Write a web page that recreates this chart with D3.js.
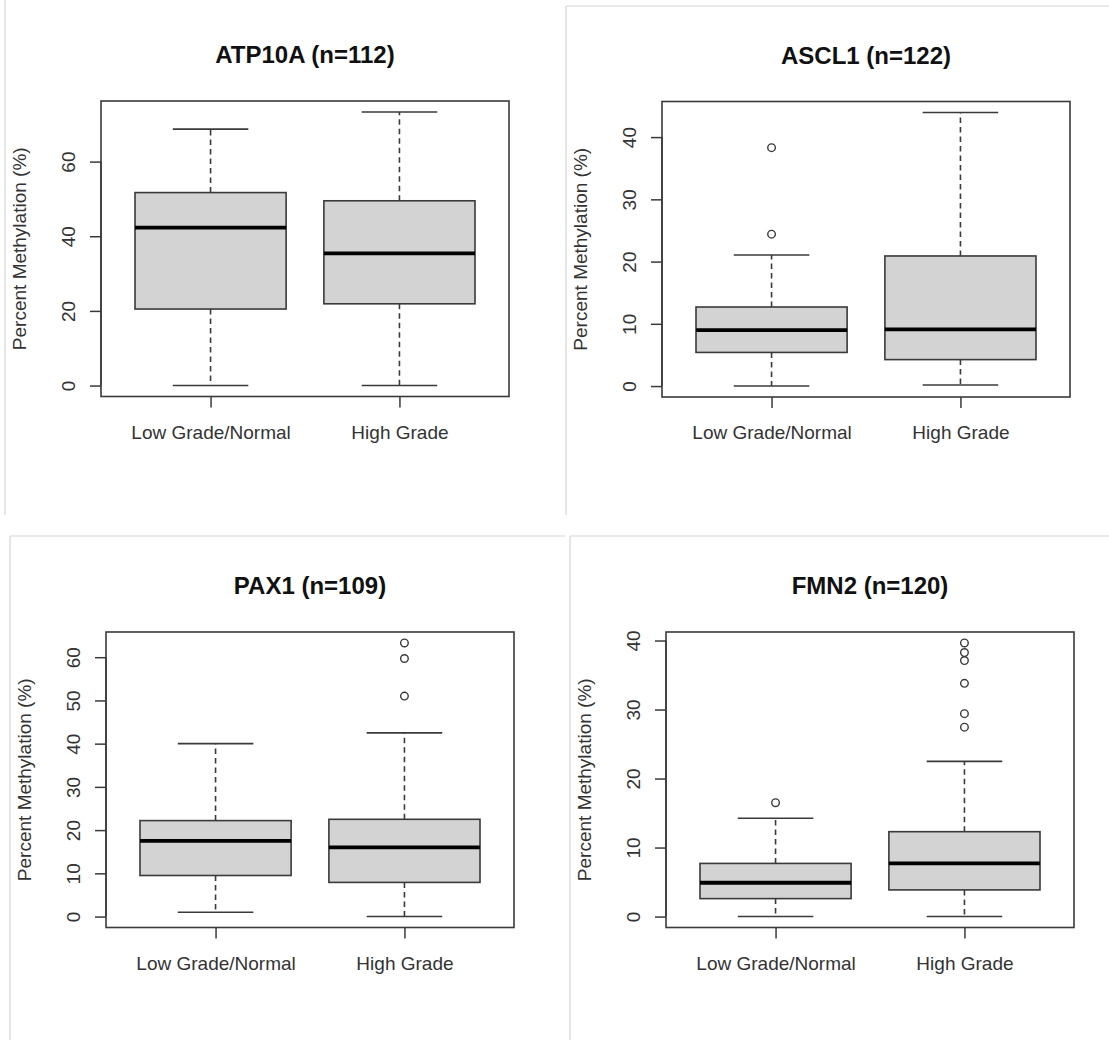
<!DOCTYPE html>
<html>
<head>
<meta charset="utf-8">
<script src="https://cdn.jsdelivr.net/npm/d3@7"></script>
<style>
  body { margin: 0; background: #fff; }
  text { font-family: "Liberation Sans", Arial, sans-serif; }
</style>
</head>
<body>
<div id="vis"></div>
<script>
// Canvas size
const width = 1109;
const height = 1040;

// Chart data
const genes = ['ATP10A', 'ASCL1', 'PAX1', 'FMN2'];
const sampleSizes = [112, 122, 109, 120];
const groups = ['Low Grade/Normal', 'High Grade'];

// y tick values per gene
const atp10aTicks = [0, 20, 40, 60];
const ascl1Ticks = [0, 10, 20, 30, 40];
const pax1Ticks = [0, 10, 20, 30, 40, 50, 60];
const fmn2Ticks = [0, 10, 20, 30, 40];

// box stats per group: [lower whisker, Q1, median, Q3, upper whisker]
const atp10aStats = [[0, 20.5, 42.3, 51.7, 68.7], [0, 21.9, 35.4, 49.5, 73.3]];
const ascl1Stats = [[0, 5.4, 9.0, 12.7, 21.05], [0.16, 4.25, 9.1, 20.9, 43.96]];
const pax1Stats = [[1.0, 9.5, 17.5, 22.2, 40.0], [0, 7.9, 16.0, 22.5, 42.5]];
const fmn2Stats = [[0, 2.6, 4.9, 7.7, 14.24], [0, 3.86, 7.72, 12.3, 22.49]];

// outliers per group
const atp10aOut = [[], []];
const ascl1Out = [[38.3, 24.4], []];
const pax1Out = [[], [63.3, 59.7, 51.0]];
const fmn2Out = [[16.5], [39.65, 38.26, 37.1, 33.8, 29.4, 27.45]];

const tickSets = [atp10aTicks, ascl1Ticks, pax1Ticks, fmn2Ticks];
const statSets = [atp10aStats, ascl1Stats, pax1Stats, fmn2Stats];
const outSets = [atp10aOut, ascl1Out, pax1Out, fmn2Out];

// Plot frames (top-left corner of each panel's plotting box)
const frames = [
    {x: 101, y: 101},
    {x: 662, y: 101.5},
    {x: 106, y: 632},
    {x: 666, y: 632}
];
const frameW = 408;
const frameH = 295.5;

// light grey borders of the stitched screenshots
const borders = [
    [5, 0, 5, 515],
    [566, 6, 1109, 6], [566, 6, 566, 515],
    [10, 536, 565, 536], [10, 536, 10, 1040],
    [570, 536, 1109, 536], [570, 536, 570, 1040]
];

const ink = '#3a3a3a';
const labelSize = '19px';

let svg = d3.select('#vis')
    .append('svg')
    .attr('width', width)
    .attr('height', height);

svg.append('rect')
    .attr('width', width)
    .attr('height', height)
    .attr('fill', '#fff');

svg.selectAll('.border')
    .data(borders)
    .join('line')
    .attr('class', 'border')
    .attr('x1', d => d[0]).attr('y1', d => d[1])
    .attr('x2', d => d[2]).attr('y2', d => d[3])
    .attr('stroke', '#d6d6d6')
    .attr('stroke-width', 1.2);

genes.forEach((gene, gi) => {
    const f = frames[gi];
    const stats = statSets[gi];
    const outs = outSets[gi];

    // R style range: data extent padded by 4%
    const allVals = stats.flat().concat(outs.flat());
    const lo = d3.min(allVals), hi = d3.max(allVals);
    const pad = (hi - lo) * 0.04;

    let xScale = d3.scaleLinear()
        .domain([0.42, 2.58])
        .range([f.x, f.x + frameW]);

    let yScale = d3.scaleLinear()
        .domain([lo - pad, hi + pad])
        .range([f.y + frameH, f.y]);

    let g = svg.append('g').attr('class', 'panel');

    // Title
    g.append('text')
        .attr('x', f.x + frameW / 2)
        .attr('y', f.y - 38)
        .attr('text-anchor', 'middle')
        .attr('font-size', '24px')
        .attr('font-weight', 'bold')
        .attr('fill', '#111')
        .text(`${gene} (n=${sampleSizes[gi]})`);

    // Y axis
    let yAxis = d3.axisLeft(yScale)
        .tickValues(tickSets[gi])
        .tickSize(11)
        .tickPadding(0)
        .tickSizeOuter(0);

    let ya = g.append('g')
        .attr('transform', `translate(${f.x},0)`)
        .call(yAxis);
    ya.select('.domain')
        .attr('d', `M0,${yScale(d3.min(tickSets[gi]))}V${yScale(d3.max(tickSets[gi]))}`)
        .attr('stroke', ink).attr('stroke-width', 1.5);
    ya.selectAll('.tick line').attr('stroke', ink).attr('stroke-width', 1.5);
    ya.selectAll('.tick text')
        .attr('x', null).attr('dy', null)
        .attr('transform', 'translate(-26.5,0) rotate(-90)')
        .attr('text-anchor', 'middle')
        .attr('font-size', labelSize)
        .attr('font-family', '"Liberation Sans", Arial, sans-serif')
        .attr('fill', '#333');

    // X axis
    let xAxis = d3.axisBottom(xScale)
        .tickValues([1, 2])
        .tickFormat((d, i) => groups[i])
        .tickSize(11)
        .tickSizeOuter(0);

    let xa = g.append('g')
        .attr('transform', `translate(0,${f.y + frameH})`)
        .call(xAxis);
    xa.select('.domain').remove();
    xa.selectAll('.tick line').attr('stroke', ink).attr('stroke-width', 1.5);
    xa.selectAll('.tick text')
        .attr('y', 42).attr('dy', null)
        .attr('font-size', labelSize)
        .attr('font-family', '"Liberation Sans", Arial, sans-serif')
        .attr('fill', '#333');

    // Y label
    g.append('text')
        .attr('transform', `translate(${f.x - 75},${f.y + frameH / 2}) rotate(-90)`)
        .attr('text-anchor', 'middle')
        .attr('font-size', labelSize)
        .attr('fill', '#333')
        .text('Percent Methylation (%)');

    // Boxes
    stats.forEach((s, i) => {
        const c = xScale(i + 1);
        const half = xScale(1.4) - xScale(1);
        const cap = xScale(1.2) - xScale(1);

        // whiskers
        g.selectAll(null)
            .data([[s[3], s[4]], [s[1], s[0]]])
            .join('line')
            .attr('x1', c).attr('x2', c)
            .attr('y1', d => yScale(d[0]))
            .attr('y2', d => yScale(d[1]))
            .attr('stroke', ink)
            .attr('stroke-width', 1.6)
            .attr('stroke-dasharray', '5.5,4');

        // caps
        g.selectAll(null)
            .data([s[0], s[4]])
            .join('line')
            .attr('x1', c - cap).attr('x2', c + cap)
            .attr('y1', d => yScale(d)).attr('y2', d => yScale(d))
            .attr('stroke', ink)
            .attr('stroke-width', 1.6);

        // box
        g.append('rect')
            .attr('x', c - half)
            .attr('y', yScale(s[3]))
            .attr('width', half * 2)
            .attr('height', yScale(s[1]) - yScale(s[3]))
            .attr('fill', '#d3d3d3')
            .attr('stroke', ink)
            .attr('stroke-width', 1.6);

        // median
        g.append('line')
            .attr('x1', c - half).attr('x2', c + half)
            .attr('y1', yScale(s[2])).attr('y2', yScale(s[2]))
            .attr('stroke', '#000')
            .attr('stroke-width', 3.8);

        // outliers
        g.selectAll(null)
            .data(outs[i])
            .join('circle')
            .attr('cx', c)
            .attr('cy', d => yScale(d))
            .attr('r', 3.8)
            .attr('fill', 'none')
            .attr('stroke', ink)
            .attr('stroke-width', 1.4);
    });

    // Frame
    g.append('rect')
        .attr('x', f.x).attr('y', f.y)
        .attr('width', frameW).attr('height', frameH)
        .attr('fill', 'none')
        .attr('stroke', ink)
        .attr('stroke-width', 1.6);
});
</script>
</body>
</html>
